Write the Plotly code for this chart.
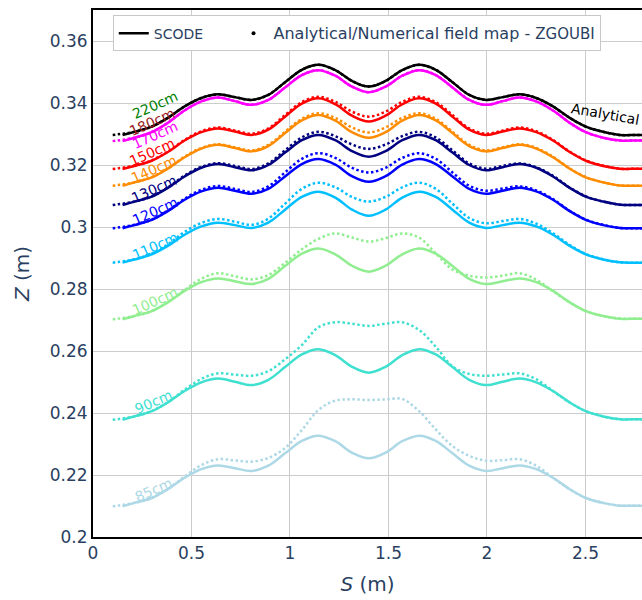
import plotly.graph_objects as go

# ---------------- data ----------------
S_ZGOUBI = [0.1, 0.21, 0.295, 0.38, 0.465, 0.55, 0.635, 0.72, 0.805, 0.89, 0.975, 1.06, 1.145, 1.23, 1.315, 1.4,
            1.485, 1.57, 1.655, 1.74, 1.825, 1.91, 1.995, 2.08, 2.165, 2.25, 2.335, 2.42, 2.505, 2.59, 2.675, 2.76, 2.845]
S_SCODE = [0.15, 0.21, 0.295, 0.38, 0.465, 0.55, 0.635, 0.72, 0.805, 0.89, 0.975, 1.06, 1.145, 1.23, 1.315, 1.4,
           1.485, 1.57, 1.655, 1.74, 1.825, 1.91, 1.995, 2.08, 2.165, 2.25, 2.335, 2.42, 2.505, 2.59, 2.675, 2.76, 2.845]

z_analytical_scode = [0.3297, 0.3307, 0.3323, 0.3352, 0.3389, 0.3416, 0.3428, 0.3419, 0.3410, 0.3426, 0.3467, 0.3507, 0.3523, 0.3506, 0.3471, 0.3453,
                      0.3471, 0.3506, 0.3523, 0.3507, 0.3467, 0.3426, 0.3410, 0.3419, 0.3428, 0.3416, 0.3389, 0.3352, 0.3323, 0.3307, 0.3297, 0.3297, 0.3297]
z_analytical_zgoubi = [0.3297, 0.3307, 0.3323, 0.3352, 0.3389, 0.3416, 0.3428, 0.3419, 0.3410, 0.3426, 0.3467, 0.3507, 0.3523, 0.3506, 0.3471, 0.3453,
                       0.3471, 0.3506, 0.3523, 0.3507, 0.3467, 0.3426, 0.3410, 0.3419, 0.3428, 0.3416, 0.3389, 0.3352, 0.3323, 0.3307, 0.3297, 0.3297, 0.3297]

z_170_scode = [0.3277, 0.3288, 0.3305, 0.3336, 0.3376, 0.3405, 0.3418, 0.3406, 0.3394, 0.3410, 0.3450, 0.3490, 0.3506, 0.3488, 0.3453, 0.3435,
               0.3453, 0.3488, 0.3506, 0.3490, 0.3450, 0.3410, 0.3394, 0.3406, 0.3418, 0.3405, 0.3376, 0.3336, 0.3305, 0.3288, 0.3279, 0.3279, 0.3279]
z_170_zgoubi = [0.3277, 0.3288, 0.3305, 0.3336, 0.3376, 0.3405, 0.3418, 0.3406, 0.3394, 0.3410, 0.3450, 0.3490, 0.3506, 0.3488, 0.3453, 0.3435,
                0.3453, 0.3488, 0.3506, 0.3490, 0.3450, 0.3410, 0.3394, 0.3406, 0.3418, 0.3405, 0.3376, 0.3336, 0.3305, 0.3288, 0.3279, 0.3279, 0.3279]

z_150_scode = [0.3187, 0.3197, 0.3213, 0.3242, 0.3279, 0.3306, 0.3318, 0.3308, 0.3297, 0.3314, 0.3356, 0.3398, 0.3415, 0.3396, 0.3359, 0.3340,
               0.3359, 0.3396, 0.3415, 0.3398, 0.3356, 0.3314, 0.3297, 0.3308, 0.3318, 0.3306, 0.3279, 0.3242, 0.3213, 0.3197, 0.3188, 0.3188, 0.3188]
z_150_zgoubi = [0.3187, 0.3198, 0.3214, 0.3243, 0.3281, 0.3309, 0.3321, 0.3311, 0.3301, 0.3318, 0.3361, 0.3403, 0.3420, 0.3404, 0.3372, 0.3356,
                0.3372, 0.3404, 0.3420, 0.3403, 0.3361, 0.3318, 0.3301, 0.3311, 0.3321, 0.3309, 0.3281, 0.3243, 0.3214, 0.3198, 0.3188, 0.3188, 0.3188]

z_140_scode = [0.3133, 0.3144, 0.3159, 0.3188, 0.3225, 0.3253, 0.3265, 0.3255, 0.3244, 0.3261, 0.3303, 0.3344, 0.3361, 0.3343, 0.3306, 0.3288,
               0.3306, 0.3343, 0.3361, 0.3344, 0.3303, 0.3261, 0.3244, 0.3255, 0.3265, 0.3253, 0.3225, 0.3188, 0.3159, 0.3144, 0.3134, 0.3133, 0.3133]
z_140_zgoubi = [0.3133, 0.3144, 0.3160, 0.3189, 0.3227, 0.3255, 0.3267, 0.3257, 0.3247, 0.3265, 0.3307, 0.3349, 0.3367, 0.3352, 0.3321, 0.3305,
                0.3321, 0.3352, 0.3367, 0.3349, 0.3307, 0.3265, 0.3247, 0.3257, 0.3267, 0.3255, 0.3227, 0.3189, 0.3160, 0.3144, 0.3134, 0.3133, 0.3133]

z_130_scode = [0.3071, 0.3082, 0.3097, 0.3126, 0.3163, 0.3191, 0.3203, 0.3193, 0.3183, 0.3200, 0.3240, 0.3280, 0.3297, 0.3280, 0.3245, 0.3227,
               0.3245, 0.3280, 0.3297, 0.3280, 0.3240, 0.3200, 0.3183, 0.3193, 0.3203, 0.3191, 0.3163, 0.3126, 0.3097, 0.3082, 0.3072, 0.3071, 0.3071]
z_130_zgoubi = [0.3071, 0.3082, 0.3098, 0.3128, 0.3166, 0.3194, 0.3206, 0.3197, 0.3187, 0.3205, 0.3247, 0.3289, 0.3307, 0.3293, 0.3266, 0.3252,
                0.3266, 0.3293, 0.3307, 0.3289, 0.3247, 0.3205, 0.3188, 0.3197, 0.3205, 0.3193, 0.3165, 0.3127, 0.3098, 0.3082, 0.3072, 0.3071, 0.3071]

z_120_scode = [0.2996, 0.3006, 0.3022, 0.3051, 0.3088, 0.3115, 0.3127, 0.3117, 0.3107, 0.3123, 0.3163, 0.3203, 0.3219, 0.3201, 0.3164, 0.3146,
               0.3164, 0.3201, 0.3219, 0.3203, 0.3163, 0.3123, 0.3107, 0.3117, 0.3127, 0.3115, 0.3088, 0.3051, 0.3022, 0.3006, 0.2997, 0.2996, 0.2996]
z_120_zgoubi = [0.2996, 0.3007, 0.3023, 0.3053, 0.3091, 0.3120, 0.3132, 0.3123, 0.3113, 0.3131, 0.3176, 0.3220, 0.3238, 0.3223, 0.3191, 0.3176,
                0.3191, 0.3223, 0.3238, 0.3220, 0.3176, 0.3133, 0.3117, 0.3124, 0.3131, 0.3118, 0.3090, 0.3052, 0.3023, 0.3007, 0.2997, 0.2996, 0.2996]

z_110_scode = [0.2885, 0.2895, 0.2911, 0.2939, 0.2975, 0.3002, 0.3014, 0.3006, 0.2997, 0.3014, 0.3056, 0.3097, 0.3114, 0.3095, 0.3056, 0.3036,
               0.3056, 0.3095, 0.3114, 0.3097, 0.3056, 0.3014, 0.2997, 0.3006, 0.3014, 0.3002, 0.2975, 0.2939, 0.2911, 0.2895, 0.2886, 0.2885, 0.2885]
z_110_zgoubi = [0.2885, 0.2896, 0.2913, 0.2944, 0.2984, 0.3013, 0.3026, 0.3017, 0.3007, 0.3027, 0.3075, 0.3123, 0.3143, 0.3128, 0.3097, 0.3082,
                0.3097, 0.3128, 0.3143, 0.3123, 0.3075, 0.3029, 0.3012, 0.3019, 0.3026, 0.3011, 0.2980, 0.2942, 0.2912, 0.2896, 0.2886, 0.2885, 0.2885]

z_100_scode = [0.2702, 0.2713, 0.2728, 0.2757, 0.2794, 0.2822, 0.2834, 0.2825, 0.2816, 0.2833, 0.2874, 0.2914, 0.2931, 0.2912, 0.2875, 0.2856,
               0.2875, 0.2912, 0.2931, 0.2914, 0.2874, 0.2833, 0.2816, 0.2825, 0.2834, 0.2822, 0.2794, 0.2757, 0.2728, 0.2713, 0.2704, 0.2704, 0.2704]
z_100_zgoubi = [0.2702, 0.2713, 0.2728, 0.2758, 0.2797, 0.2833, 0.2851, 0.2841, 0.2831, 0.2845, 0.2884, 0.2928, 0.2962, 0.2979, 0.2966, 0.2953,
                0.2964, 0.2979, 0.2966, 0.2915, 0.2863, 0.2843, 0.2837, 0.2843, 0.2851, 0.2830, 0.2793, 0.2757, 0.2728, 0.2713, 0.2705, 0.2704, 0.2704]

z_90_scode = [0.2378, 0.2389, 0.2405, 0.2434, 0.2471, 0.2499, 0.2511, 0.2501, 0.2490, 0.2507, 0.2548, 0.2589, 0.2606, 0.2587, 0.2549, 0.2530,
              0.2549, 0.2587, 0.2606, 0.2589, 0.2548, 0.2507, 0.2490, 0.2501, 0.2511, 0.2499, 0.2471, 0.2434, 0.2405, 0.2389, 0.2380, 0.2380, 0.2380]
z_90_zgoubi = [0.2378, 0.2389, 0.2405, 0.2435, 0.2475, 0.2510, 0.2528, 0.2524, 0.2520, 0.2535, 0.2573, 0.2619, 0.2677, 0.2693, 0.2688, 0.2681,
               0.2688, 0.2693, 0.2668, 0.2614, 0.2550, 0.2526, 0.2520, 0.2524, 0.2528, 0.2509, 0.2471, 0.2434, 0.2405, 0.2389, 0.2380, 0.2380, 0.2380]

z_85_scode = [0.2099, 0.2110, 0.2125, 0.2154, 0.2191, 0.2219, 0.2231, 0.2222, 0.2213, 0.2230, 0.2270, 0.2310, 0.2327, 0.2309, 0.2272, 0.2254,
              0.2272, 0.2309, 0.2327, 0.2310, 0.2270, 0.2230, 0.2213, 0.2222, 0.2231, 0.2219, 0.2191, 0.2154, 0.2125, 0.2110, 0.2101, 0.2101, 0.2101]
z_85_zgoubi = [0.2099, 0.2110, 0.2125, 0.2155, 0.2195, 0.2232, 0.2251, 0.2247, 0.2243, 0.2255, 0.2287, 0.2345, 0.2410, 0.2440, 0.2444, 0.2442,
               0.2444, 0.2445, 0.2406, 0.2347, 0.2293, 0.2262, 0.2246, 0.2248, 0.2251, 0.2230, 0.2191, 0.2154, 0.2125, 0.2110, 0.2101, 0.2101, 0.2101]

curve_colors = ["black", "magenta", "red", "darkorange", "navy", "blue",
                "deepskyblue", "lightgreen", "turquoise", "lightblue"]
curve_scode = [z_analytical_scode, z_170_scode, z_150_scode, z_140_scode, z_130_scode,
               z_120_scode, z_110_scode, z_100_scode, z_90_scode, z_85_scode]
curve_zgoubi = [z_analytical_zgoubi, z_170_zgoubi, z_150_zgoubi, z_140_zgoubi, z_130_zgoubi,
                z_120_zgoubi, z_110_zgoubi, z_100_zgoubi, z_90_zgoubi, z_85_zgoubi]

label_texts = ["220cm", "180cm", "170cm", "150cm", "140cm", "130cm",
               "120cm", "110cm", "100cm", "90cm", "85cm"]
label_colors = ["green", "#9a1a1a", "magenta", "red", "darkorange", "navy",
                "blue", "deepskyblue", "lightgreen", "turquoise", "lightblue"]
label_s = [0.315, 0.300, 0.315, 0.300, 0.310, 0.310, 0.315, 0.315, 0.315, 0.305, 0.305]
label_z = [0.3394, 0.3339, 0.3297, 0.3242, 0.3187, 0.3123, 0.3052, 0.2939, 0.2761, 0.2435, 0.2152]

legend_scode = "<span style='font-size:14px'>SCODE</span>&nbsp;&nbsp;&nbsp;&nbsp;&nbsp;"
legend_zgoubi = "Analytical/Numerical field map - <span style='font-size:15px'>ZGOUBI</span>"

# ---------------- figure ----------------
fig = go.Figure()

for col, zs, zz in zip(curve_colors, curve_scode, curve_zgoubi):
    fig.add_trace(go.Scatter(x=S_SCODE, y=zs, mode="lines", showlegend=False,
                             line=dict(color=col, width=2.5, shape="spline", smoothing=1.0),
                             hoverinfo="skip"))
    fig.add_trace(go.Scatter(x=S_ZGOUBI, y=zz, mode="lines", showlegend=False,
                             line=dict(color=col, width=2.5, shape="spline", smoothing=1.0,
                                       dash="2.5px,2.5px"),
                             hoverinfo="skip"))

# legend entries
fig.add_trace(go.Scatter(x=[None], y=[None], mode="lines",
                         line=dict(color="black", width=2.5), name=legend_scode))
fig.add_trace(go.Scatter(x=[None], y=[None], mode="markers",
                         marker=dict(color="black", size=4), name=legend_zgoubi))

for t, c, s, z in zip(label_texts, label_colors, label_s, label_z):
    fig.add_annotation(x=s, y=z, text=t, showarrow=False, textangle=-24,
                       font=dict(size=14, color=c, family="DejaVu Sans"))

fig.add_annotation(x=2.603, y=0.3366, text="Analytical", showarrow=False, textangle=10,
                   font=dict(size=14, color="black", family="DejaVu Sans"))

fig.update_layout(
    width=642, height=600,
    margin=dict(l=93, r=0, t=10, b=63),
    paper_bgcolor="white", plot_bgcolor="white",
    font=dict(family="DejaVu Sans", size=16, color="#2a3f5f"),
    legend=dict(orientation="h", x=0.036, y=0.99, xanchor="left", yanchor="top",
                bgcolor="white", bordercolor="#c8c8c8", borderwidth=1,
                font=dict(size=16)),
    xaxis=dict(range=[0, 2.787], dtick=0.5, showgrid=True, gridcolor="#cccccc",
               showline=True, linecolor="black", linewidth=2, mirror=True,
               zeroline=False, ticks="", tickfont=dict(size=17),
               title=dict(text="<i>S</i> (m)", font=dict(size=20))),
    yaxis=dict(range=[0.2, 0.37], dtick=0.02, showgrid=True, gridcolor="#cccccc",
               showline=True, linecolor="black", linewidth=2, mirror=False,
               zeroline=False, ticks="", tickfont=dict(size=17),
               title=dict(text="<i>Z</i> (m)", font=dict(size=20))),
)

fig.write_html("out.html")
